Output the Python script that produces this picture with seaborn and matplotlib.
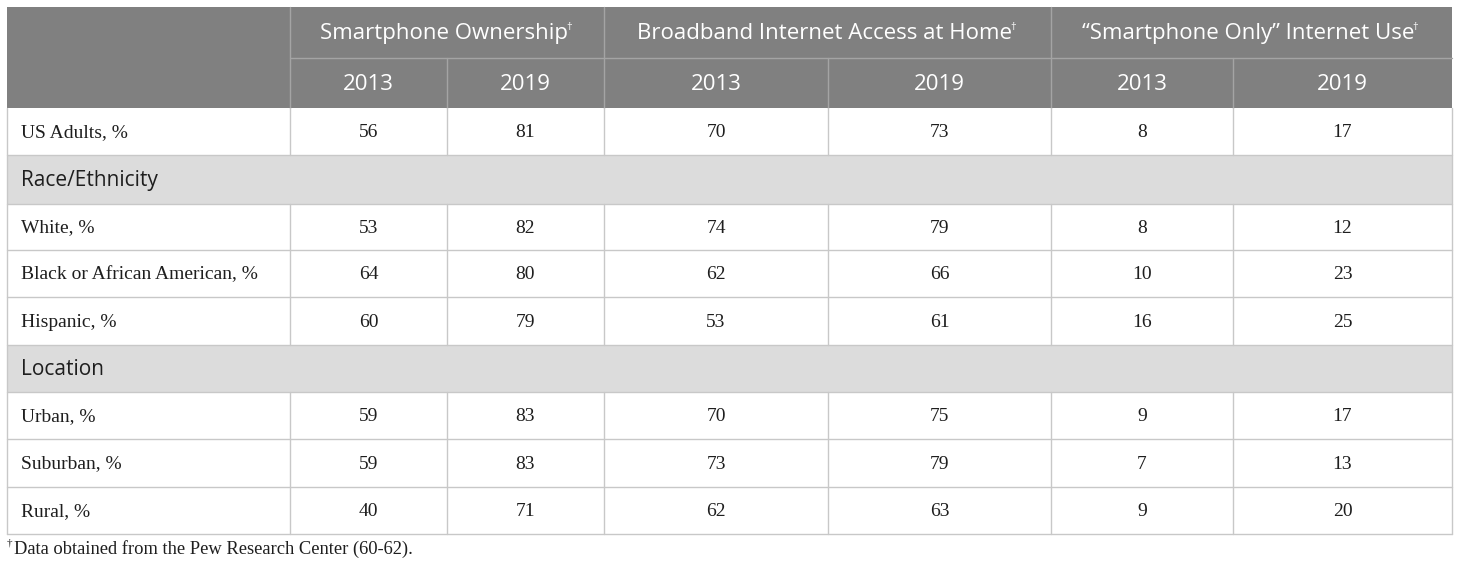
import numpy as np
import pandas as pd
import seaborn as sns
import matplotlib
import matplotlib.pyplot as plt
from matplotlib import patches
matplotlib.use('Agg')

# table content
groups = ["Smartphone Ownership", "Broadband Internet Access at Home", "\u201cSmartphone Only\u201d Internet Use"]
years = ["2013", "2019"]
row_labels = ["US Adults, %", "Race/Ethnicity", "White, %", "Black or African American, %",
              "Hispanic, %", "Location", "Urban, %", "Suburban, %", "Rural, %"]
is_section = [False, True, False, False, False, True, False, False, False]
smartphone_2013 = [56, None, 53, 64, 60, None, 59, 59, 40]
smartphone_2019 = [81, None, 82, 80, 79, None, 83, 83, 71]
broadband_2013 = [70, None, 74, 62, 53, None, 70, 73, 62]
broadband_2019 = [73, None, 79, 66, 61, None, 75, 79, 63]
only_2013 = [8, None, 8, 10, 16, None, 9, 7, 9]
only_2019 = [17, None, 12, 23, 25, None, 17, 13, 20]
footnote = "Data obtained from the Pew Research Center (60-62)."

df = pd.DataFrame({
    "s13": smartphone_2013, "s19": smartphone_2019,
    "b13": broadband_2013, "b19": broadband_2019,
    "o13": only_2013, "o19": only_2019,
}, index=row_labels)

# layout in pixels
col_edges = [7, 290, 447, 604, 828, 1051, 1233, 1452]
row_edges = [108, 155, 204, 250, 297, 345, 392, 439, 487, 534]
head_top, head_mid = 7, 58

HEAD_BG = "#808080"
SECTION_BG = "#dcdcdc"
GRID = "#c8c8c8"
HEAD_LINE = "#a4a4a4"
TXT = "#1e1e1e"

sns.set_theme(style="white")
plt.rcParams['font.family'] = ['Open Sans', 'DejaVu Sans']

fig = plt.figure(figsize=(14.6, 5.69), dpi=100)
ax = fig.add_axes([0, 0, 1, 1])
ax.set_xlim(0, 1460)
ax.set_ylim(569, 0)
ax.axis("off")
renderer = fig.canvas.get_renderer()

x0, x1 = col_edges[0], col_edges[-1]

# header background
ax.add_patch(patches.Rectangle((x0, head_top), x1 - x0, row_edges[0] - head_top,
                               facecolor=HEAD_BG, edgecolor="none"))
# header lines
ax.plot([col_edges[1], x1], [head_mid, head_mid], color=HEAD_LINE, lw=1)
for i, x in enumerate(col_edges[1:-1], start=1):
    top = head_top if i % 2 == 1 else head_mid
    ax.plot([x, x], [top, row_edges[0]], color=HEAD_LINE, lw=1)

for g, name in enumerate(groups):
    cx = (col_edges[1 + 2 * g] + col_edges[3 + 2 * g]) / 2 - 3
    t = ax.text(cx, (head_top + head_mid) / 2 + 1, name, ha="center", va="center",
                color="white", fontsize=16)
    bb = t.get_window_extent(renderer)
    ax.text(cx + bb.width / 2 - 2, (head_top + head_mid) / 2 - 5, "\u2020", ha="left",
            va="center", color="white", fontsize=8)
    for k, yr in enumerate(years):
        c = 1 + 2 * g + k
        ax.text((col_edges[c] + col_edges[c + 1]) / 2, (head_mid + row_edges[0]) / 2 + 1, yr,
                ha="center", va="center", color="white", fontsize=16)

# body
for r, label in enumerate(row_labels):
    ytop, ybot = row_edges[r], row_edges[r + 1]
    ymid = (ytop + ybot) / 2
    if is_section[r]:
        ax.add_patch(patches.Rectangle((x0, ytop), x1 - x0, ybot - ytop,
                                       facecolor=SECTION_BG, edgecolor="none"))
        ax.text(21, ymid + 1, label, ha="left", va="center", fontsize=15, color=TXT)
        continue
    ax.text(21, ymid + 1, label, ha="left", va="center", fontsize=14,
            family="Liberation Serif", color=TXT)
    for c, col in enumerate(df.columns):
        v = df.iloc[r][col]
        ax.text((col_edges[c + 1] + col_edges[c + 2]) / 2, ymid + 1, f"{int(v)}",
                ha="center", va="center", fontsize=14, family="Liberation Serif", color=TXT)
    # vertical lines for data rows
    for x in col_edges[1:-1]:
        ax.plot([x, x], [ytop, ybot], color=GRID, lw=1)

# horizontal grid lines and outer border
for y in row_edges[1:]:
    ax.plot([x0, x1], [y, y], color=GRID, lw=1)
ax.plot([x0, x0], [row_edges[0], row_edges[-1]], color=GRID, lw=1)
ax.plot([x1, x1], [row_edges[0], row_edges[-1]], color=GRID, lw=1)

ax.text(14, 549, footnote, ha="left", va="center", fontsize=13.3,
        family="Liberation Serif", color=TXT)
ax.text(7, 543, "\u2020", ha="left", va="center", fontsize=8,
        family="Liberation Serif", color=TXT)

fig.savefig("out.png", dpi=100)
